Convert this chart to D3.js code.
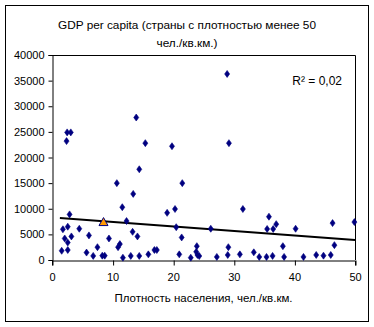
<!DOCTYPE html>
<html><head><meta charset="utf-8">
<script src="https://cdn.jsdelivr.net/npm/d3@7"></script>
<style>
html,body{margin:0;padding:0;background:#fff;}
text{font-family:"Liberation Sans",Arial,sans-serif;fill:#000;}
</style></head>
<body><svg id="c" width="374" height="327"></svg>
<script>
const densityX = [28.9,13.9,2.5,3.1,2.4,15.4,19.8,29.2,14.4,10.7,21.5,13.4,2.9,11.6,12.3,1.8,2.6,4.5,13.3,14.1,6.1,2.1,3.2,2.6,9.4,11.2,10.9,7.5,1.6,2.6,5.7,6.8,8.3,8.7,11.7,13.0,14.4,15.9,16.9,17.3,19.0,20.3,31.5,20.5,26.2,21.4,23.9,29.1,23.8,33.3,21.0,24.0,24.3,29.0,31.0,22.9,27.2,34.2,35.8,35.5,36.5,37.0,40.2,46.3,49.9,38.1,46.6,35.4,36.4,38.3,41.5,43.6,44.8,46.0];
const gdpY = [36300,27800,24900,24900,23200,22800,22200,22800,17700,15000,15000,12900,8900,10300,7600,6000,6500,6100,5500,4600,4800,4200,4600,3400,4200,3100,2500,2500,1800,1950,1450,800,850,850,450,800,800,1100,1950,1950,9200,9950,9950,6400,6100,4400,2700,2500,1600,1500,1100,980,780,980,1100,450,600,600,8450,6050,6050,7000,6100,7200,7400,2700,2900,600,800,600,600,980,850,980];
const highlightX = [8.5];
const highlightY = [7400];
const trendX = [1.3, 50];
const trendY = [8200, 3900];
const xTicks = [0,10,20,30,40,50];
const yTicks = [0,5000,10000,15000,20000,25000,30000,35000,40000];
const titleLines = ["GDP per capita (страны с плотностью менее 50","чел./кв.км.)"];
const xTitle = "Плотность населения, чел./кв.км.";
const r2Label = "R² = 0,02";

const svg = d3.select("#c");
svg.append("rect").attr("x",5.5).attr("y",5.5).attr("width",363).attr("height",316)
  .attr("fill","#fff").attr("stroke","#000").attr("stroke-width",1);

const L=52, R=355, T=55, B=260;
const x = d3.scaleLinear().domain([0,50]).range([L,R]);
const y = d3.scaleLinear().domain([0,40000]).range([B,T]);

svg.append("path").attr("d",`M${L},${T+0.5}H${R+0.5}V${B}`).attr("fill","none").attr("stroke","#000");

const gx = svg.append("g").attr("transform",`translate(0,${B+0.5})`)
  .call(d3.axisBottom(x).tickValues(xTicks).tickSize(5).tickPadding(8).tickFormat(d3.format("d")));
const gy = svg.append("g").attr("transform",`translate(${L+0.5},0)`)
  .call(d3.axisLeft(y).tickValues(yTicks).tickSize(4).tickPadding(4).tickFormat(d3.format("d")));
[gx,gy].forEach(g=>{
  g.select(".domain").attr("stroke","#000");
  g.selectAll(".tick line").attr("stroke","#000");
  g.selectAll(".tick text").attr("font-size","11px").attr("font-family","Liberation Sans, Arial, sans-serif").attr("fill","#000");
});
gx.selectAll(".tick line").attr("transform","translate(0.5,0)");

svg.append("line").attr("x1",x(trendX[0])).attr("y1",y(trendY[0])).attr("x2",x(trendX[1])).attr("y2",y(trendY[1]))
  .attr("stroke","#000").attr("stroke-width",2);

const pts = densityX.map((d,i)=>({x:d,y:gdpY[i]}));
svg.append("g").selectAll("path").data(pts).join("path")
  .attr("transform",d=>`translate(${x(d.x)},${y(d.y)})`)
  .attr("d","M0,-3.5L2.5,0L0,3.5L-2.5,0Z")
  .attr("fill","#000080").attr("stroke","#000080").attr("stroke-width",0.6);

svg.append("g").selectAll("path").data(highlightX.map((d,i)=>({x:d,y:highlightY[i]}))).join("path")
  .attr("transform",d=>`translate(${x(d.x)},${y(d.y)})`)
  .attr("d","M0,-4.5L4.5,3.5L-4.5,3.5Z")
  .attr("fill","#FF9900").attr("stroke","#000080").attr("stroke-width",1);

svg.append("text").attr("x",187).attr("y",29).attr("text-anchor","middle").attr("font-size","11.8px").text(titleLines[0]);
svg.append("text").attr("x",187).attr("y",47).attr("text-anchor","middle").attr("font-size","11.8px").text(titleLines[1]);
svg.append("text").attr("x",(L+R)/2).attr("y",302).attr("text-anchor","middle").attr("font-size","11.5px").text(xTitle);
svg.append("text").attr("x",342).attr("y",85).attr("text-anchor","end").attr("font-size","12px").text(r2Label);
</script></body></html>
